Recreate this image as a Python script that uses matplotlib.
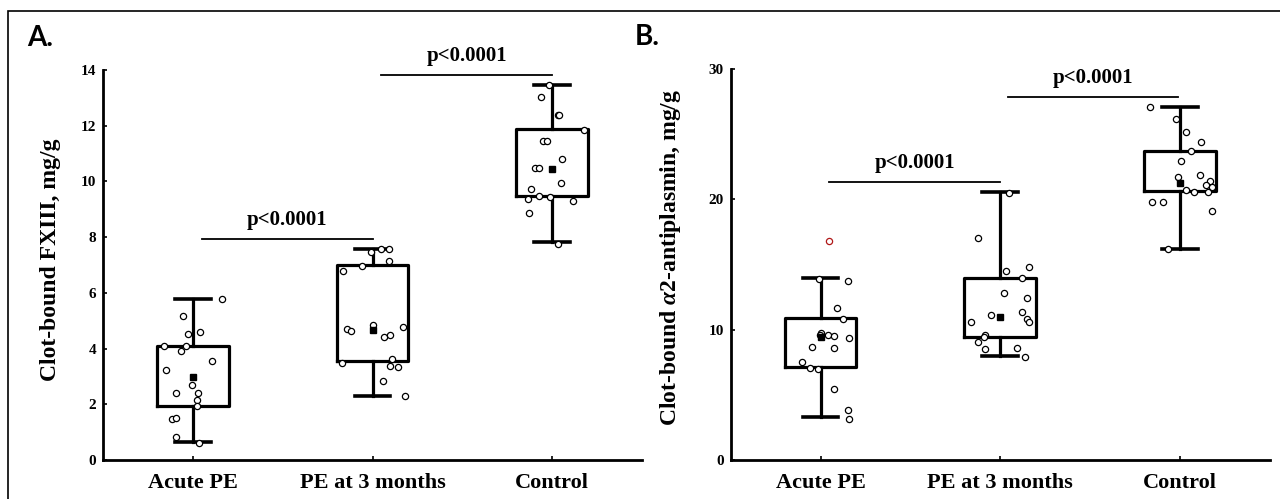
import matplotlib
matplotlib.use("Agg")
import matplotlib.pyplot as plt
from matplotlib.patches import Rectangle

plt.rcParams["font.family"] = ["Liberation Serif", "DejaVu Serif"]
plt.rcParams["font.weight"] = "bold"
plt.rcParams["mathtext.fontset"] = "custom"
plt.rcParams["mathtext.rm"] = "Liberation Serif:bold"
plt.rcParams["mathtext.it"] = "Liberation Serif:italic:bold"
plt.rcParams["mathtext.bf"] = "Liberation Serif:bold"

groups = ["Acute PE", "PE at 3 months", "Control"]

# ---- Panel A: clot-bound FXIII, mg/g ----
a_q1 = [1.94, 3.54, 9.47]
a_q3 = [4.10, 7.01, 11.87]
a_lo = [0.65, 2.28, 7.81]
a_hi = [5.78, 7.58, 13.47]
a_mean = [2.97, 4.67, 10.45]

a_acute = [5.78, 5.18, 4.52, 4.58, 4.08, 3.93, 4.08, 3.54, 3.24, 2.70, 2.40, 2.40, 2.16, 1.94, 1.47, 1.50, 0.82, 0.62]
a_acute_dx = [0.16, -0.055, -0.027, 0.04, -0.16, -0.068, -0.04, 0.105, -0.148, -0.005, -0.095, 0.027, 0.023, 0.023, -0.118, -0.095, -0.095, 0.034]
a_pe3 = [7.58, 7.58, 7.46, 7.13, 6.95, 6.77, 4.70, 4.64, 4.85, 4.43, 4.49, 4.77, 3.50, 3.62, 3.36, 3.33, 2.84, 2.28]
a_pe3_dx = [0.045, 0.091, -0.009, 0.091, -0.057, -0.164, -0.141, -0.118, 0.005, 0.064, 0.095, 0.17, -0.17, 0.109, 0.095, 0.141, 0.057, 0.182]
a_ctrl = [13.47, 13.03, 12.38, 12.38, 11.84, 11.46, 11.46, 10.81, 10.48, 10.48, 9.95, 9.73, 9.37, 9.49, 9.45, 9.29, 8.87, 7.77]
a_ctrl_dx = [-0.018, -0.061, 0.034, 0.039, 0.175, -0.05, -0.03, 0.057, -0.095, -0.075, 0.05, -0.12, -0.136, -0.073, -0.011, 0.114, -0.13, 0.034]

# ---- Panel B: clot-bound alpha2-antiplasmin, mg/g ----
b_q1 = [7.16, 9.41, 20.67]
b_q3 = [10.92, 13.99, 23.74]
b_lo = [3.27, 7.98, 16.17]
b_hi = [13.94, 20.54, 27.06]
b_mean = [9.41, 11.00, 21.28]

b_acute = [13.86, 13.76, 11.64, 10.82, 9.77, 9.59, 9.59, 9.51, 9.33, 8.70, 8.62, 7.54, 7.03, 6.98, 5.42, 3.84, 3.17]
b_acute_dx = [-0.011, 0.155, 0.091, 0.127, 0.005, -0.005, 0.041, 0.075, 0.159, -0.05, 0.075, -0.105, -0.059, -0.016, 0.075, 0.155, 0.159]
b_outlier = [16.80]
b_outlier_dx = [0.05]
b_pe3 = [20.51, 17.06, 14.50, 14.83, 13.94, 12.79, 12.40, 10.61, 11.13, 11.33, 10.79, 10.61, 9.59, 9.41, 9.03, 8.49, 8.62, 7.93]
b_pe3_dx = [0.05, -0.125, 0.034, 0.159, 0.12, 0.023, 0.148, -0.164, -0.05, 0.12, 0.148, 0.159, -0.084, -0.091, -0.125, -0.084, 0.091, 0.136]
b_ctrl = [27.06, 26.14, 25.14, 24.38, 23.74, 22.95, 21.69, 21.87, 21.41, 21.10, 20.98, 20.72, 20.59, 20.59, 19.78, 19.78, 19.13, 16.17]
b_ctrl_dx = [-0.167, -0.022, 0.032, 0.117, 0.061, 0.004, -0.011, 0.113, 0.166, 0.146, 0.18, 0.032, 0.079, 0.153, -0.156, -0.096, 0.18, -0.07]

# significance bars: (x_start, x_end, y)
a_sig = [(0.05, 1.0, 7.95), (1.05, 2.0, 13.83)]
b_sig = [(0.05, 1.0, 21.36), (1.045, 1.99, 27.88)]
sig_label = "p<0.0001"


def draw_panel(ax, q1, q3, lo, hi, mean, pts, ymax, yticks, ylabel, sig):
    stats = []
    for i in range(3):
        stats.append(dict(q1=q1[i], q3=q3[i], med=mean[i], mean=mean[i],
                          whislo=lo[i], whishi=hi[i], fliers=[], label=groups[i]))
    ax.bxp(stats, positions=range(3), widths=0.4, showmeans=True, capwidths=0.2,
           boxprops=dict(color="black", linewidth=2.3),
           whiskerprops=dict(color="black", linewidth=2.3),
           capprops=dict(color="black", linewidth=2.6),
           medianprops=dict(visible=False),
           meanprops=dict(marker="s", markerfacecolor="black", markeredgecolor="black",
                          markersize=4.5, zorder=5),
           zorder=2)
    for i, (vals, dx, col) in enumerate(pts):
        xs = [i + d for d in dx]
        ax.scatter(xs, vals, s=20, facecolor="white", edgecolor=col, linewidth=0.9, zorder=3)
    for x0, x1, y in sig:
        ax.plot([x0, x1], [y, y], color="black", linewidth=1.3, clip_on=False)
        ax.annotate(sig_label, xy=((x0 + x1) / 2, y), xytext=(0, 6.5),
                    textcoords="offset points", ha="center", va="bottom",
                    fontsize=15, fontweight="bold", annotation_clip=False)
    ax.set_xlim(-0.5, 2.5)
    ax.set_ylim(0, ymax)
    ax.set_yticks(yticks)
    ax.set_xticks(range(3))
    ax.set_xticklabels(groups, fontsize=16, fontweight="bold")
    ax.tick_params(axis="y", direction="in", length=3, width=1.2, labelsize=11, pad=5)
    ax.tick_params(axis="x", direction="in", length=3, width=1.2, pad=9)
    for lab in ax.get_yticklabels():
        lab.set_fontweight("bold")
    for s in ["top", "right"]:
        ax.spines[s].set_visible(False)
    for s in ["left", "bottom"]:
        ax.spines[s].set_linewidth(2.0)
    ax.set_ylabel(ylabel, fontsize=17, fontweight="bold")


fig = plt.figure(figsize=(12.8, 4.99), dpi=100)
axA = fig.add_axes([103 / 1280, 39 / 499, 539 / 1280, 390 / 499])
axB = fig.add_axes([730.6 / 1280, 39 / 499, 539.4 / 1280, 391 / 499])

draw_panel(axA, a_q1, a_q3, a_lo, a_hi, a_mean,
           [(a_acute, a_acute_dx, "black"), (a_pe3, a_pe3_dx, "black"), (a_ctrl, a_ctrl_dx, "black")],
           14, range(0, 15, 2), "Clot-bound FXIII, mg/g", a_sig)
draw_panel(axB, b_q1, b_q3, b_lo, b_hi, b_mean,
           [(b_acute, b_acute_dx, "black"), (b_pe3, b_pe3_dx, "black"), (b_ctrl, b_ctrl_dx, "black")],
           30, [0, 10, 20, 30], r"Clot-bound $\alpha$2-antiplasmin, mg/g", b_sig)
axB.scatter(b_outlier_dx, b_outlier, s=20, facecolor="white", edgecolor="#b01818",
            linewidth=0.9, zorder=3)

axA.yaxis.set_label_coords(-0.078, 0.513)
axB.yaxis.set_label_coords(-0.088, 0.518)

fig.text(27 / 1280, 1 - 46 / 499, "A.", fontsize=20, fontweight="bold", family="Lato", va="baseline")
fig.text(635 / 1280, 1 - 45 / 499, "B.", fontsize=20, fontweight="bold", family="Lato", va="baseline")

fig.add_artist(Rectangle((7.5 / 1280, -0.1), 1.2, 1.1 - 10.5 / 499, transform=fig.transFigure,
                         fill=False, edgecolor="black", linewidth=1.2))

fig.savefig("out.png", dpi=100)
